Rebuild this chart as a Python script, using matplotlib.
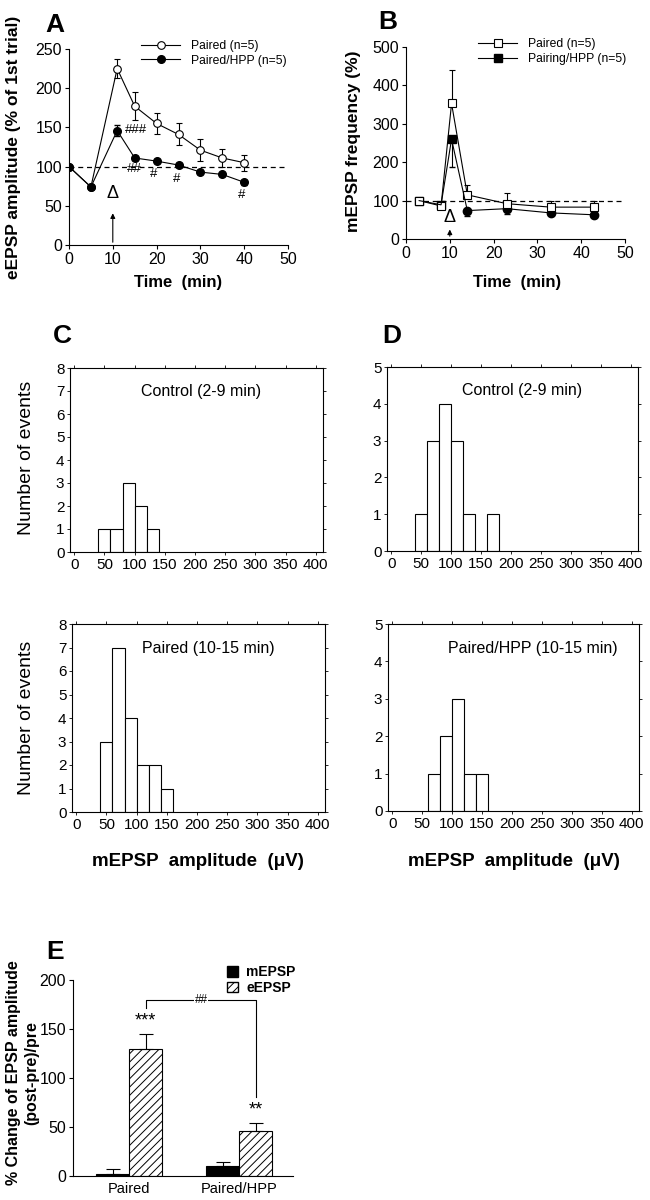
import numpy as np
import matplotlib
matplotlib.use("Agg")
import matplotlib.pyplot as plt
from matplotlib.patches import Patch
from matplotlib.lines import Line2D

plt.rcParams['font.family'] = ['Liberation Sans', 'DejaVu Sans']
plt.rcParams['font.size'] = 10
plt.rcParams['axes.linewidth'] = 0.8
plt.rcParams['hatch.linewidth'] = 0.7

# panel A: eEPSP amplitude over time
a_time = [0, 5, 11, 15, 20, 25, 30, 35, 40]
a_paired = [100, 74, 225, 177, 155, 141, 121, 111, 105]
a_paired_err = [0, 0, 12, 18, 14, 14, 14, 11, 10]
a_hpp = [100, 74, 146, 111, 107, 102, 93, 90, 80]
a_hpp_err = [0, 0, 7, 3, 3, 3, 2, 2, 3]
a_marks = ["###", "##", "#", "#", "#"]
a_mark_x = [15.4, 14.9, 19.4, 24.5, 39.4]
a_mark_y = [147, 97, 90, 84, 64]

# panel B: mEPSP frequency over time
b_time = [3, 8, 10.4, 14, 23, 33, 43]
b_paired = [100, 86, 353, 115, 92, 83, 83]
b_paired_err = [4, 8, 88, 26, 28, 17, 17]
b_hpp = [100, 89, 260, 74, 79, 68, 63]
b_hpp_err = [4, 8, 72, 15, 15, 5, 5]

# panels C and D: amplitude histograms (bin left edges, counts)
bin_w = 20
c_ctrl_bins = [40, 60, 80, 100, 120]
c_ctrl_counts = [1, 1, 3, 2, 1]
c_pair_bins = [40, 60, 80, 100, 120, 140]
c_pair_counts = [3, 7, 4, 2, 2, 1]
d_ctrl_bins = [40, 60, 80, 100, 120, 140, 160]
d_ctrl_counts = [1, 3, 4, 3, 1, 0, 1]
d_hpp_bins = [60, 80, 100, 120, 140]
d_hpp_counts = [1, 2, 3, 1, 1]

# panel E: % change of EPSP amplitude
groups = ["Paired", "Paired/HPP"]
m_vals = [2, 10]
m_err = [5, 4]
e_vals = [130, 46]
e_err = [15, 8]
e_stars = ["***", "**"]

W, H = 650, 1200
fig = plt.figure(figsize=(6.5, 12), dpi=100)


def add_ax(left, right, top, bottom):
    return fig.add_axes([left / W, 1 - bottom / H, (right - left) / W, (bottom - top) / H])


def time_axes(ax, ymax, ystep):
    ax.spines['top'].set_visible(False)
    ax.spines['right'].set_visible(False)
    ax.set_xlim(0, 50)
    ax.set_ylim(0, ymax)
    ax.set_xticks(np.arange(0, 51, 10))
    ax.set_yticks(np.arange(0, ymax + 1, ystep))
    ax.tick_params(direction='out', length=3, width=0.8, labelsize=11.5, pad=2)


def legend_lines(ax, marker, labels):
    hs = [Line2D([], [], color='black', lw=0.8, marker=marker, ms=5.5,
                 mfc='white', mec='black', mew=0.8),
          Line2D([], [], color='black', lw=0.8, marker=marker, ms=5.5,
                 mfc='black', mec='black')]
    ax.legend(hs, labels, loc='upper left', bbox_to_anchor=(0.33, 1.045),
              frameon=False, fontsize=8.7, handlelength=3.2, handletextpad=0.9,
              labelspacing=0.2, borderpad=0, borderaxespad=0)


# ---- A ----
axA = add_ax(69, 288, 49, 245)
time_axes(axA, 250, 50)
axA.axhline(100, color='black', ls=(0, (4, 3)), lw=0.9)
axA.errorbar(a_time, a_paired, yerr=a_paired_err, color='black', lw=0.8,
             marker='o', ms=5.5, mfc='white', mec='black', mew=0.8,
             capsize=2.5, elinewidth=0.8)
axA.errorbar(a_time, a_hpp, yerr=a_hpp_err, color='black', lw=0.8,
             marker='o', ms=5.5, mfc='black', mec='black',
             capsize=2.5, elinewidth=0.8)
for s, x, y in zip(a_marks, a_mark_x, a_mark_y):
    axA.text(x, y, s, ha='center', va='center', fontsize=9.5)
axA.annotate('', xy=(10, 44), xytext=(10, 0),
             arrowprops=dict(arrowstyle='-|>', color='black', lw=0.8, mutation_scale=7))
axA.text(10, 66, 'Δ', ha='center', va='center', fontsize=13)
legend_lines(axA, 'o', ['Paired (n=5)', 'Paired/HPP (n=5)'])

# ---- B ----
axB = add_ax(406, 625, 47, 239)
time_axes(axB, 500, 100)
axB.axhline(100, color='black', ls=(0, (4, 3)), lw=0.9)
axB.errorbar(b_time, b_paired, yerr=[[0] * len(b_paired_err), b_paired_err],
             color='black', lw=0.8, marker='s', ms=6, mfc='white', mec='black',
             mew=0.8, capsize=2.5, elinewidth=0.8)
axB.errorbar(b_time, b_hpp, yerr=[b_hpp_err, [0] * len(b_hpp_err)],
             color='black', lw=0.8, marker='None', capsize=2.5, elinewidth=0.8)
axB.plot(b_time[:3], b_hpp[:3], 's', color='black', ms=6)
axB.plot(b_time[3:], b_hpp[3:], 'o', color='black', ms=6)
axB.annotate('', xy=(10, 32), xytext=(10, 0),
             arrowprops=dict(arrowstyle='-|>', color='black', lw=0.8, mutation_scale=7))
axB.text(10, 56, 'Δ', ha='center', va='center', fontsize=13)
legend_lines(axB, 's', ['Paired (n=5)', 'Pairing/HPP (n=5)'])

for x, y, s in [(14, 147, 'eEPSP amplitude (% of 1st trial)'),
                (353, 141, 'mEPSP frequency (%)')]:
    fig.text(x / W, 1 - y / H, s, rotation=90, ha='center', va='center',
             fontsize=12.5, fontweight='bold')
for x, y in [(178, 283), (517, 282)]:
    fig.text(x / W, 1 - y / H, 'Time  (min)', ha='center', va='center',
             fontsize=12, fontweight='bold')


# ---- C, D ----
def hist_panel(box, bins, counts, ymax, label, lx):
    ax = add_ax(*box)
    ax.bar(bins, counts, width=bin_w, align='edge', color='white',
           edgecolor='black', lw=0.8)
    ax.set_xlim(-7, 412)
    ax.set_ylim(0, ymax)
    ax.set_xticks(np.arange(0, 401, 50))
    ax.set_yticks(np.arange(0, ymax + 1, 1))
    ax.tick_params(direction='out', length=2, width=0.6, labelsize=11, pad=2)
    ax.tick_params(top=True, right=True, labeltop=False, labelright=False)
    ax.text(lx, 0.87, label, transform=ax.transAxes, ha='center', va='center',
            fontsize=11.5)
    return ax


hist_panel((70, 323, 368, 552), c_ctrl_bins, c_ctrl_counts, 8, 'Control (2-9 min)', 0.52)
hist_panel((72, 325, 624, 812), c_pair_bins, c_pair_counts, 8, 'Paired (10-15 min)', 0.54)
hist_panel((387, 638, 367, 551), d_ctrl_bins, d_ctrl_counts, 5, 'Control (2-9 min)', 0.54)
hist_panel((388, 639, 624, 811), d_hpp_bins, d_hpp_counts, 5, 'Paired/HPP (10-15 min)', 0.575)

for y in [458, 718]:
    fig.text(27 / W, 1 - y / H, 'Number of events', rotation=90, ha='center',
             va='center', fontsize=14)
for x in [198, 514]:
    fig.text(x / W, 1 - 861 / H, 'mEPSP  amplitude  (μV)', ha='center',
             va='center', fontsize=13.5, fontweight='bold')

# ---- E ----
axE = add_ax(73, 293, 980, 1176)
xg = np.arange(len(groups))
bw = 0.3
axE.bar(xg - bw / 2, m_vals, width=bw, color='black', edgecolor='black', lw=0.8)
axE.bar(xg + bw / 2, e_vals, width=bw, color='white', edgecolor='black', lw=0.8,
        hatch='////')
axE.errorbar(xg - bw / 2, m_vals, yerr=[[0, 0], m_err], fmt='none', ecolor='black',
             elinewidth=0.8, capsize=5, capthick=0.8)
axE.errorbar(xg + bw / 2, e_vals, yerr=[[0, 0], e_err], fmt='none', ecolor='black',
             elinewidth=0.8, capsize=5, capthick=0.8)
for i, s in enumerate(e_stars):
    axE.text(xg[i] + bw / 2, e_vals[i] + e_err[i] + 5, s, ha='center',
             va='bottom', fontsize=13)
# bracket between the two eEPSP bars
top_y = 180
axE.plot([xg[0] + bw / 2, xg[0] + bw / 2, xg[1] + bw / 2, xg[1] + bw / 2],
         [171, top_y, top_y, 81], color='black', lw=0.8)
axE.text(0.655, top_y, '##', ha='center', va='center', fontsize=8.5,
         bbox=dict(facecolor='white', edgecolor='none', pad=0.5))
axE.spines['top'].set_visible(False)
axE.spines['right'].set_visible(False)
axE.set_xlim(-0.51, 1.49)
axE.set_ylim(0, 200)
axE.set_yticks(np.arange(0, 201, 50))
axE.set_xticks(xg)
axE.set_xticklabels(groups, fontsize=10.5)
axE.tick_params(axis='x', length=0, pad=4)
axE.tick_params(axis='y', direction='out', length=3, width=0.8, labelsize=11.5, pad=2)
axE.legend([Patch(facecolor='black', edgecolor='black'),
            Patch(facecolor='white', edgecolor='black', hatch='////')],
           ['mEPSP', 'eEPSP'], loc='upper left', bbox_to_anchor=(0.7, 1.075),
           frameon=False, handlelength=0.8, handleheight=0.8, handletextpad=0.6,
           labelspacing=0.1, borderpad=0, borderaxespad=0,
           prop={'weight': 'bold', 'size': 10})
fig.text(23 / W, 1 - 1073 / H, '% Change of EPSP amplitude\n(post-pre)/pre',
         rotation=90, ha='center', va='center', fontsize=11.5, fontweight='bold',
         linespacing=1.25)

# panel letters
for x, y, s in [(55, 25, 'A'), (388, 22, 'B'), (62, 336, 'C'), (392, 336, 'D'), (55, 952, 'E')]:
    fig.text(x / W, 1 - y / H, s, ha='center', va='center', fontsize=19,
             fontweight='bold')

fig.savefig('out.png', dpi=100)
